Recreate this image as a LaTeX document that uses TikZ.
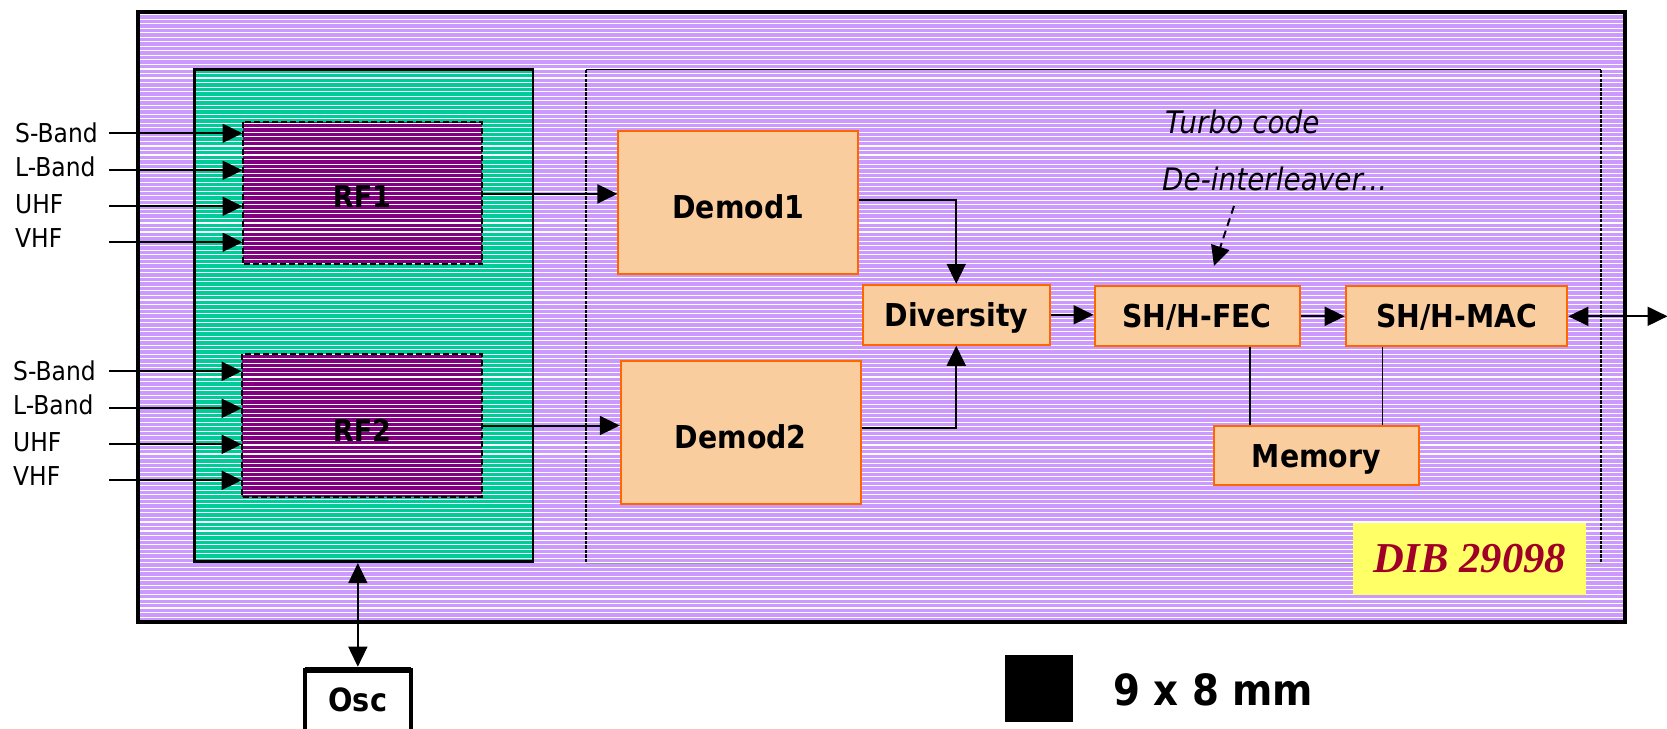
\documentclass[tikz,border=0pt]{standalone}
\usepackage{fontspec}
\setmainfont{DejaVu Sans}[FakeStretch=0.9]
\newfontfamily\dibfont{Liberation Serif}
\usetikzlibrary{arrows.meta,calc}
\definecolor{chipbg}{HTML}{CC99FF}
\definecolor{rfgreen}{HTML}{00CC99}
\definecolor{rfpurple}{HTML}{800080}
\definecolor{peach}{HTML}{FACD9F}
\definecolor{borange}{HTML}{FF6600}
\definecolor{dibyellow}{HTML}{FFFF66}
\definecolor{dibred}{HTML}{A00028}
\begin{document}
\begin{tikzpicture}[x=1pt,y=-1pt,
  zone/.style={inner sep=0pt, outer sep=0pt, draw=none},
  blk/.style={draw=borange, fill=peach, line width=2pt, inner sep=0pt,
    font=\fontsize{31.5}{36}\selectfont\bfseries, text depth=0pt, text height=23pt},
  lbl/.style={font=\fontsize{26}{30}\selectfont, inner sep=0pt, anchor=base west},
  itlbl/.style={font=\fontsize{31}{36}\selectfont\itshape, inner sep=0pt, anchor=base west},
  conn/.style={line width=2pt, -{Triangle[length=20pt,width=19pt]}},
  dconn/.style={line width=2pt, {Triangle[length=20pt,width=19pt]}-{Triangle[length=20pt,width=19pt]}},
  plain/.style={line width=1.6pt}
]
\useasboundingbox (0,0) rectangle (1667,728);

% background areas
\node[zone, fill=chipbg, minimum width=1486.7pt, minimum height=610pt] (chip) at (881.35,317) {};
\node[zone, fill=rfgreen, minimum width=338.5pt, minimum height=492pt] (green) at (363.75,315.7) {};
\node[zone, fill=rfpurple, minimum width=239.5pt, minimum height=142.8pt] (rf1) at (362.25,192.9) {};
\node[zone, fill=rfpurple, minimum width=240pt, minimum height=142.4pt] (rf2) at (361.7,425.5) {};

% dotted inner frame (vertical sides, interrupted by the stripes)
\coordinate (dtl) at (586,69.3);
\coordinate (dbr) at (1601,563);
\draw[line width=1.5pt] (dtl) -- (dtl |- dbr);
\draw[line width=1.5pt] (dbr |- dtl) -- (dbr);

% horizontal white stripes
\foreach \k in {0,...,133}{
  \pgfmathsetmacro\yy{14.6+4.53*\k}
  \draw[white, line width=1.1pt] (140,\yy) -- (1622.7,\yy);
}

\draw[line width=1pt] (dtl) -- (dtl -| dbr);
\draw[line width=1pt, black!40] (dtl |- dbr) -- (dbr);

% borders
\draw[line width=4pt] (chip.north west) rectangle (chip.south east);
\draw[line width=2.8pt] (green.north west) rectangle (green.south east);
\draw[line width=2pt, dash pattern=on 6pt off 3pt] (rf1.north west) rectangle (rf1.south east);
\draw[line width=2pt, dash pattern=on 6pt off 3pt] (rf2.north west) rectangle (rf2.south east);
\node[font=\fontsize{30}{34}\selectfont\bfseries, inner sep=0pt] (rf1t) at (362,197) {RF1};
\node[font=\fontsize{30}{34}\selectfont\bfseries, inner sep=0pt] (rf2t) at (362,430.3) {RF2};

% input bands
\foreach \t/\ly/\by [count=\i] in {S-Band/133.3/142.7, L-Band/170.3/176.7, UHF/206.3/213.3, VHF/242.3/247.3}{
  \node[lbl] (a\i) at (15,\by) {\t};
  \coordinate (ai\i) at (109,\ly);
  \draw[conn] (ai\i) -- (ai\i -| rf1.west);
}
\foreach \t/\ly/\by [count=\i] in {S-Band/371.3/380.7, L-Band/408.3/414.7, UHF/444.3/451.3, VHF/480.3/485.3}{
  \node[lbl] (b\i) at (13,\by) {\t};
  \coordinate (bi\i) at (109,\ly);
  \draw[conn] (bi\i) -- (bi\i -| rf2.west);
}

% processing blocks
\node[blk, text height=32pt, minimum width=239.6pt, minimum height=142.7pt] (demod1) at (738.2,202.15) {Demod1};
\node[blk, text height=32pt, minimum width=239.7pt, minimum height=143pt] (demod2) at (740.65,432.3) {Demod2};
\node[blk, minimum width=186.5pt, minimum height=60pt] (div) at (956.25,314.8) {Diversity};
\node[blk, minimum width=205pt, minimum height=60.3pt] (fec) at (1197,316.3) {SH/H-FEC};
\node[blk, minimum width=221.7pt, minimum height=60.3pt] (mac) at (1456.5,316.3) {SH/H-MAC};
\node[blk, minimum width=205.1pt, minimum height=59.4pt] (mem) at (1316.25,455.5) {Memory};

% connectors
\draw[conn] ([yshift=-1pt]rf1.east) -- ([yshift=-1pt]rf1.east -| demod1.west);
\draw[conn] (rf2.east) -- (rf2.east -| demod2.west);
\draw[conn] ([yshift=2pt]demod1.east) -| (div.north);
\draw[conn] ([yshift=4pt]demod2.east) -| (div.south);
\draw[conn] (div.east) -- (div.east -| fec.west);
\draw[conn] (fec.east) -- (mac.west);
\coordinate (ext) at (1667.5,316.3);
\draw[dconn] (mac.east) -- (ext);
\coordinate (m1) at (1250,346.5);
\coordinate (m2) at (1382.5,346.5);
\draw[plain] (m1) -- (m1 |- mem.north);
\draw[plain] (m2) -- (m2 |- mem.north);

% annotations
\node[itlbl] (turbo) at (1165,133) {Turbo code};
\node[itlbl] (deint) at (1162,190) {De-interleaver...};
\coordinate (dstart) at (1234,206);
\coordinate (dend) at (1214,266);
\draw[conn, dash pattern=on 8pt off 5pt] (dstart) -- (dend);

% DIB label
\node[zone, fill=dibyellow, minimum width=233pt, minimum height=72pt, text=dibred,
  font={\dibfont\bfseries\itshape\fontsize{42.6}{48}\selectfont}] (dib) at (1469.5,559) {DIB 29098};

% oscillator
\node[draw, line width=4pt, minimum width=106.3pt, minimum height=61pt, inner sep=0pt, outer sep=0pt,
  anchor=north, font=\fontsize{32}{36}\selectfont\bfseries, text height=23.3pt, text depth=0pt] (osc) at (357.85,669.7) {Osc};
\draw[line width=6pt] (osc.north west) -- (osc.north east);
\draw[dconn, line width=1.5pt] ([yshift=-1.4pt]osc.north |- green.south) -- ([yshift=3pt]osc.north);

% size legend
\node[zone, fill=black, minimum width=68pt, minimum height=67pt] (sq) at (1039,688.5) {};
\node[font=\fontsize{43}{48}\selectfont\bfseries, inner sep=0pt, anchor=base west] (size) at (1113,705) {9 x 8 mm};
\end{tikzpicture}
\end{document}
